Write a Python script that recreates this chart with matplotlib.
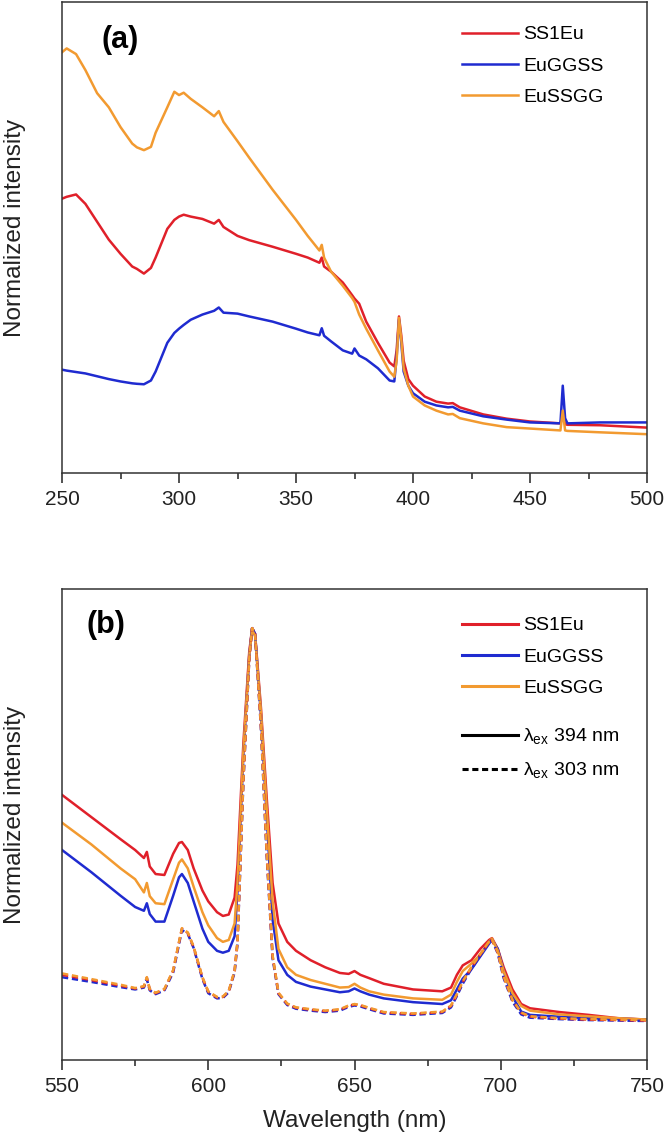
import numpy as np
import matplotlib.pyplot as plt
from matplotlib.lines import Line2D
from matplotlib.ticker import MultipleLocator

plt.rcParams['font.family'] = ['Liberation Sans', 'DejaVu Sans']
plt.rcParams['mathtext.fontset'] = 'custom'
plt.rcParams['mathtext.rm'] = 'Liberation Sans'

C_RED = '#e0202a'
C_BLUE = '#1f2bd0'
C_ORANGE = '#f29a30'

# ---- (a) excitation spectra ----
wl_a = [250, 252, 256, 260, 265, 270, 275, 280, 282, 285, 288, 290, 295, 298, 300, 302, 305, 310,
        315, 317, 319, 325, 330, 340, 350, 355, 360, 361, 362, 365, 370, 374, 375, 377, 380, 385,
        390, 392, 393, 394, 395, 396, 398, 400, 405, 410, 415, 417, 420, 430, 440, 450, 463, 464,
        465, 466, 480, 500]
exc_ss1eu = [0.583, 0.587, 0.592, 0.572, 0.534, 0.496, 0.466, 0.439, 0.434, 0.424, 0.436, 0.458,
             0.519, 0.538, 0.545, 0.549, 0.545, 0.540, 0.530, 0.538, 0.523, 0.504, 0.495, 0.481,
             0.466, 0.458, 0.447, 0.458, 0.439, 0.428, 0.405, 0.378, 0.371, 0.360, 0.322, 0.277,
             0.235, 0.227, 0.261, 0.333, 0.292, 0.239, 0.200, 0.186, 0.163, 0.152, 0.148, 0.149,
             0.140, 0.125, 0.116, 0.110, 0.106, 0.125, 0.104, 0.103, 0.102, 0.097]
exc_euggss = [0.220, 0.218, 0.215, 0.212, 0.206, 0.200, 0.195, 0.191, 0.190, 0.189, 0.197, 0.216,
              0.277, 0.298, 0.307, 0.315, 0.326, 0.337, 0.345, 0.352, 0.341, 0.339, 0.333, 0.322,
              0.307, 0.299, 0.293, 0.308, 0.292, 0.280, 0.261, 0.254, 0.265, 0.250, 0.242, 0.223,
              0.197, 0.195, 0.246, 0.326, 0.277, 0.216, 0.186, 0.170, 0.152, 0.144, 0.140, 0.141,
              0.133, 0.121, 0.114, 0.108, 0.106, 0.186, 0.117, 0.106, 0.108, 0.108]
exc_eussgg = [0.894, 0.902, 0.890, 0.856, 0.807, 0.777, 0.735, 0.700, 0.692, 0.686, 0.693, 0.723,
              0.777, 0.810, 0.803, 0.808, 0.795, 0.777, 0.758, 0.769, 0.746, 0.705, 0.670, 0.602,
              0.538, 0.504, 0.473, 0.485, 0.458, 0.428, 0.398, 0.372, 0.364, 0.337, 0.307, 0.261,
              0.216, 0.205, 0.239, 0.330, 0.284, 0.223, 0.186, 0.163, 0.144, 0.133, 0.125, 0.126,
              0.117, 0.106, 0.098, 0.095, 0.091, 0.133, 0.091, 0.090, 0.087, 0.083]

# ---- (b) emission spectra ----
wl_b = [550, 560, 570, 575, 578, 579, 580, 582, 585, 588, 590, 591, 593, 595, 598, 600, 603, 605,
        607, 609, 610, 612, 614, 615, 616, 618, 620, 622, 624, 627, 630, 635, 640, 645, 648, 650,
        652, 655, 660, 670, 680, 683, 685, 687, 690, 693, 696, 697, 699, 701, 704, 707, 710, 720,
        730, 740, 750]
em394_ss1eu = [0.563, 0.516, 0.469, 0.446, 0.429, 0.442, 0.411, 0.395, 0.393, 0.438, 0.461, 0.463,
               0.446, 0.407, 0.360, 0.337, 0.314, 0.306, 0.309, 0.345, 0.415, 0.672, 0.866, 0.917,
               0.905, 0.749, 0.555, 0.376, 0.290, 0.251, 0.232, 0.212, 0.197, 0.185, 0.183, 0.189,
               0.181, 0.174, 0.162, 0.150, 0.146, 0.154, 0.181, 0.201, 0.212, 0.236, 0.255, 0.259,
               0.236, 0.197, 0.150, 0.119, 0.110, 0.102, 0.096, 0.089, 0.086]
em394_euggss = [0.446, 0.399, 0.349, 0.325, 0.317, 0.333, 0.310, 0.294, 0.294, 0.349, 0.388, 0.395,
                0.376, 0.337, 0.279, 0.251, 0.232, 0.228, 0.232, 0.263, 0.360, 0.648, 0.858, 0.917,
                0.905, 0.733, 0.516, 0.298, 0.212, 0.181, 0.166, 0.156, 0.150, 0.144, 0.146, 0.152,
                0.146, 0.139, 0.131, 0.123, 0.119, 0.127, 0.150, 0.173, 0.193, 0.220, 0.247, 0.255,
                0.236, 0.189, 0.135, 0.103, 0.096, 0.092, 0.089, 0.088, 0.086]
em394_eussgg = [0.504, 0.458, 0.407, 0.384, 0.356, 0.376, 0.348, 0.333, 0.331, 0.384, 0.419, 0.426,
                0.407, 0.368, 0.314, 0.286, 0.259, 0.251, 0.255, 0.290, 0.376, 0.656, 0.858, 0.913,
                0.901, 0.741, 0.532, 0.337, 0.236, 0.197, 0.181, 0.170, 0.162, 0.154, 0.155, 0.162,
                0.154, 0.146, 0.139, 0.131, 0.128, 0.139, 0.166, 0.189, 0.205, 0.224, 0.251, 0.258,
                0.232, 0.189, 0.142, 0.115, 0.105, 0.097, 0.093, 0.089, 0.086]
em303_ss1eu = [0.181, 0.170, 0.158, 0.152, 0.156, 0.175, 0.150, 0.142, 0.150, 0.190, 0.250, 0.279,
               0.270, 0.240, 0.175, 0.145, 0.133, 0.134, 0.146, 0.189, 0.251, 0.594, 0.851, 0.917,
               0.905, 0.710, 0.438, 0.220, 0.142, 0.119, 0.111, 0.107, 0.104, 0.107, 0.115, 0.118,
               0.116, 0.110, 0.101, 0.098, 0.102, 0.115, 0.139, 0.166, 0.197, 0.224, 0.251, 0.255,
               0.228, 0.177, 0.127, 0.100, 0.092, 0.088, 0.086, 0.085, 0.084]
em303_euggss = [0.176, 0.166, 0.155, 0.150, 0.154, 0.172, 0.148, 0.140, 0.148, 0.186, 0.246, 0.276,
                0.268, 0.238, 0.172, 0.142, 0.131, 0.132, 0.144, 0.186, 0.248, 0.590, 0.850, 0.917,
                0.905, 0.706, 0.432, 0.216, 0.140, 0.117, 0.109, 0.105, 0.102, 0.105, 0.113, 0.116,
                0.114, 0.108, 0.099, 0.096, 0.100, 0.112, 0.136, 0.162, 0.194, 0.222, 0.250, 0.255,
                0.226, 0.174, 0.124, 0.097, 0.090, 0.087, 0.085, 0.084, 0.083]
em303_eussgg = [0.184, 0.172, 0.160, 0.153, 0.157, 0.176, 0.151, 0.143, 0.151, 0.191, 0.251, 0.280,
                0.271, 0.241, 0.176, 0.146, 0.134, 0.135, 0.147, 0.190, 0.252, 0.596, 0.852, 0.917,
                0.905, 0.712, 0.440, 0.222, 0.143, 0.120, 0.112, 0.108, 0.105, 0.108, 0.116, 0.119,
                0.117, 0.111, 0.102, 0.099, 0.103, 0.116, 0.140, 0.167, 0.198, 0.225, 0.252, 0.256,
                0.229, 0.178, 0.128, 0.101, 0.093, 0.089, 0.087, 0.086, 0.085]

names = ['SS1Eu', 'EuGGSS', 'EuSSGG']
colors = [C_RED, C_BLUE, C_ORANGE]
DASH = (0, (2.5, 1.5))

fig = plt.figure(figsize=(6.64, 11.35), dpi=100)
ax_a = fig.add_axes([0.0934, 0.583, 0.881, 0.415])
ax_b = fig.add_axes([0.0934, 0.066, 0.881, 0.415])

for y, c, n in zip([exc_ss1eu, exc_euggss, exc_eussgg], colors, names):
    ax_a.plot(wl_a, y, color=c, lw=1.8, label=n)

for y, c in zip([em394_ss1eu, em394_euggss, em394_eussgg], colors):
    ax_b.plot(wl_b, y, color=c, lw=1.8)
for y, c in zip([em303_euggss, em303_ss1eu, em303_eussgg], [C_BLUE, C_RED, C_ORANGE]):
    ax_b.plot(wl_b, y, color=c, lw=1.8, ls=DASH)

for ax, lo, hi in [(ax_a, 250, 500), (ax_b, 550, 750)]:
    ax.set_xlim(lo, hi)
    ax.set_ylim(0, 1)
    ax.set_yticks([])
    ax.xaxis.set_major_locator(MultipleLocator(50))
    ax.xaxis.set_minor_locator(MultipleLocator(25))
    ax.tick_params(axis='x', which='major', length=7, width=1.1, labelsize=15, pad=5, colors='#222')
    ax.tick_params(axis='x', which='minor', length=4, width=1.1, colors='#222')
    for s in ax.spines.values():
        s.set_linewidth(1.1)
        s.set_color('#333')
    ax.set_ylabel('Normalized intensity', fontsize=17.5, color='#222')
    ax.yaxis.set_label_coords(-0.062, 0.52)

ax_a.text(0.099, 0.92, '(a)', transform=ax_a.transAxes, fontsize=22, weight='bold',
          ha='center', va='center')
ax_b.text(0.075, 0.924, '(b)', transform=ax_b.transAxes, fontsize=22, weight='bold',
          ha='center', va='center')
ax_b.set_xlabel('Wavelength (nm)', fontsize=17.5, labelpad=10, color='#222')

leg_kw = dict(frameon=False, fontsize=14, handlelength=2.85, handletextpad=0.3,
              borderaxespad=0, borderpad=0, labelspacing=0.7, loc='upper left')

ax_a.legend(bbox_to_anchor=(0.684, 0.95), **leg_kw)

h1 = [Line2D([0], [0], color=c, lw=2.2) for c in colors]
leg1 = ax_b.legend(h1, names, bbox_to_anchor=(0.684, 0.941), **leg_kw)
ax_b.add_artist(leg1)
h2 = [Line2D([0], [0], color='k', lw=2.2), Line2D([0], [0], color='k', lw=2.2, ls=(0, (2, 1.2)))]
ax_b.legend(h2, ['λ$_{\\mathregular{ex}}$ 394 nm', 'λ$_{\\mathregular{ex}}$ 303 nm'],
            bbox_to_anchor=(0.684, 0.707), **leg_kw)

fig.savefig('out.png', dpi=100)
